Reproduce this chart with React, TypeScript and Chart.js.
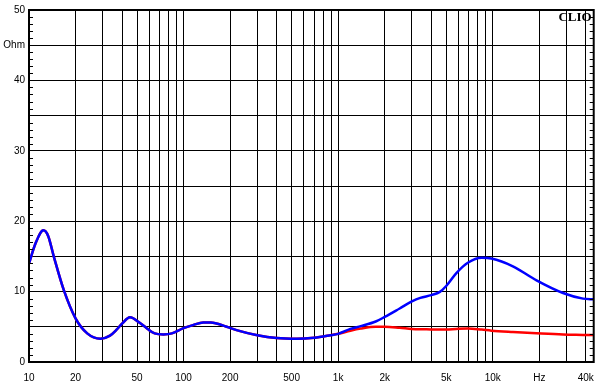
import React, { useEffect, useRef } from "react";
import { Chart, registerables } from "chart.js";

Chart.register(...registerables);

// Frequency points (Hz)
const freqHz = [
  10, 11, 12.4, 13.3, 14.5, 16.8, 20, 23.8, 29, 33.4, 36.9, 40, 45, 52, 58, 65, 74, 84,
  99, 115, 134, 150, 190, 220, 300, 400, 540, 700, 890, 1000,
  1200, 1400, 1750, 2000, 2500, 3000, 3400, 4000, 4550, 5000, 5800, 6900, 8500, 9800,
  13500, 19200, 28500, 38400, 45000,
];

// Blue impedance curve (Ohm)
const blueOhm = [
  14.0, 16.8, 18.7, 17.9, 14.9, 10.2, 6.2, 4.07, 3.3, 3.75, 4.6, 5.45, 6.35, 5.57, 4.77, 4.06, 3.92, 4.06,
  4.77, 5.24, 5.62, 5.62, 5.0, 4.53, 3.8, 3.4, 3.3, 3.45, 3.8, 4.0,
  4.7, 5.1, 5.75, 6.4, 7.6, 8.6, 9.1, 9.5, 9.96, 10.8, 12.6, 14.1, 14.8, 14.7,
  13.6, 11.6, 9.8, 9.0, 8.9,
];

// Red impedance curve (Ohm)
const redOhm = [
  14.0, 16.8, 18.7, 17.9, 14.9, 10.2, 6.2, 4.07, 3.3, 3.75, 4.6, 5.45, 6.35, 5.57, 4.77, 4.06, 3.92, 4.06,
  4.77, 5.24, 5.62, 5.62, 5.0, 4.53, 3.8, 3.4, 3.3, 3.45, 3.8, 4.0,
  4.45, 4.75, 5.0, 5.0, 4.86, 4.7, 4.65, 4.63, 4.6, 4.6, 4.7, 4.77, 4.6, 4.45,
  4.25, 4.07, 3.9, 3.85, 3.82,
];

// Axis ranges and labels
const xMin = 10;
const xMax = 45000;
const xDecades = [10, 100, 1000, 10000];
const xLabelValues = [10, 20, 50, 100, 200, 500, 1000, 2000, 5000, 10000, 20000, 40000];
const xLabelTexts = ["10", "20", "50", "100", "200", "500", "1k", "2k", "5k", "10k", "Hz", "40k"];
const yMin = 0;
const yMax = 50;
const yLabelValues = [0, 10, 20, 30, 40, 45, 50];
const yLabelTexts = ["0", "10", "20", "30", "40", "Ohm", "50"];

const xGridHz: number[] = [];
xDecades.forEach((d) => {
  for (let m = 1; m <= 9; m++) {
    const v = d * m;
    if (v <= 40000) xGridHz.push(v);
  }
});

const labelFont = { family: "'Liberation Sans', Arial, sans-serif", size: 10 };

const framePlugin = {
  id: "frame",
  beforeDraw(chart: any) {
    const { ctx, width, height } = chart;
    ctx.save();
    ctx.fillStyle = "#ffffff";
    ctx.fillRect(0, 0, width, height);
    ctx.restore();
  },
  afterDraw(chart: any) {
    const { ctx, chartArea: a, scales } = chart;
    ctx.save();
    ctx.strokeStyle = "#000000";
    ctx.lineWidth = 1;
    ctx.beginPath();
    for (let v = yMin + 1; v < yMax; v++) {
      if (v % 5 === 0) continue;
      const y = Math.round(scales.y.getPixelForValue(v)) + 0.5;
      ctx.moveTo(a.left, y);
      ctx.lineTo(a.left + 4, y);
      ctx.moveTo(a.right - 4, y);
      ctx.lineTo(a.right, y);
    }
    ctx.stroke();
    ctx.lineWidth = 2;
    ctx.strokeRect(a.left, a.top, a.right - a.left, a.bottom - a.top);
    ctx.fillStyle = "#000000";
    ctx.font = "bold 13px 'Liberation Serif', 'Times New Roman', serif";
    ctx.textAlign = "right";
    ctx.textBaseline = "alphabetic";
    ctx.fillText("CLIO", a.right - 2, a.top + 10.5);
    ctx.restore();
  },
};

export default function App() {
  const canvasRef = useRef<HTMLCanvasElement | null>(null);

  useEffect(() => {
    if (!canvasRef.current) return;
    const chart = new Chart(canvasRef.current, {
      type: "line",
      data: {
        datasets: [
          {
            label: "blue",
            data: freqHz.map((f, i) => ({ x: f, y: blueOhm[i] })),
            borderColor: "#0000ff",
            borderWidth: 2.5,
            pointRadius: 0,
            cubicInterpolationMode: "monotone",
            fill: false,
          },
          {
            label: "red",
            data: freqHz.map((f, i) => ({ x: f, y: redOhm[i] })),
            borderColor: "#ff0000",
            borderWidth: 2.5,
            pointRadius: 0,
            cubicInterpolationMode: "monotone",
            fill: false,
          },
        ],
      },
      options: {
        animation: false,
        responsive: false,
        maintainAspectRatio: false,
        layout: { padding: { top: 9, right: 10, left: 0, bottom: 0 } },
        plugins: {
          legend: { display: false },
          tooltip: { enabled: false },
          title: { display: false },
        },
        scales: {
          x: {
            type: "logarithmic",
            min: xMin,
            max: xMax,
            afterBuildTicks: (scale: any) => {
              scale.ticks = xGridHz.map((v) => ({ value: v }));
            },
            afterFit: (scale: any) => {
              scale.height = 26;
            },
            grid: { color: "#000000", lineWidth: 1, drawTicks: false },
            border: { display: false },
            ticks: {
              autoSkip: false,
              maxRotation: 0,
              minRotation: 0,
              padding: 10,
              color: "#000000",
              font: labelFont,
              callback: (value: any) => {
                const i = xLabelValues.indexOf(Number(value));
                return i >= 0 ? xLabelTexts[i] : "";
              },
            },
          },
          y: {
            type: "linear",
            min: yMin,
            max: yMax,
            afterFit: (scale: any) => {
              scale.width = 29;
            },
            grid: { color: "#000000", lineWidth: 1, drawTicks: false },
            border: { display: false },
            ticks: {
              stepSize: 5,
              autoSkip: false,
              padding: 4,
              color: "#000000",
              font: labelFont,
              callback: (value: any) => {
                const i = yLabelValues.indexOf(Number(value));
                return i >= 0 ? yLabelTexts[i] : "";
              },
            },
          },
        },
      },
      plugins: [framePlugin],
    } as any);
    return () => chart.destroy();
  }, []);

  return (
    <div style={{ position: "fixed", left: 0, top: 0, width: 604, height: 388, background: "#fff" }}>
      <canvas ref={canvasRef} width={604} height={388} style={{ display: "block" }} />
    </div>
  );
}
